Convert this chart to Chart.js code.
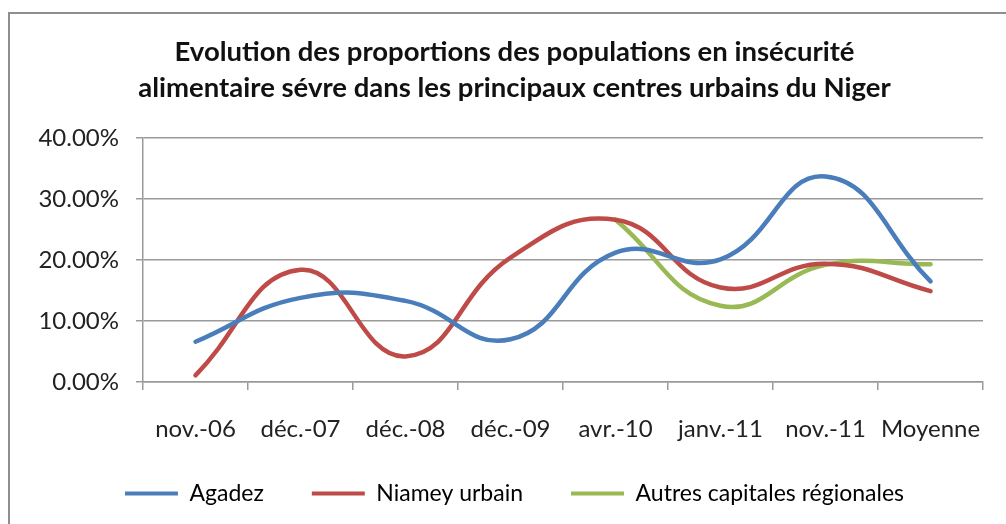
<!DOCTYPE html>
<html>
<head>
<meta charset="utf-8">
<script src="https://cdn.jsdelivr.net/npm/chart.js@4/dist/chart.umd.min.js"></script>
<style>
  html, body { margin: 0; padding: 0; background: #fff; overflow: hidden; }
  #frame { position: absolute; left: 8px; top: 12px; width: 1020px; height: 540px;
           border: 2px solid #8e8e8e; box-sizing: border-box; }
  #wrap { position: absolute; left: 0; top: 0; width: 1006px; height: 524px; }
</style>
</head>
<body>
<div id="frame"></div>
<div id="wrap"><canvas id="chart"></canvas></div>
<script>
// Survey periods and the average column
const categories = ['nov.-06', 'déc.-07', 'déc.-08', 'déc.-09', 'avr.-10', 'janv.-11', 'nov.-11', 'Moyenne'];

// Share of the population in severe food insecurity (%)
const agadez = [6.6, 13.8, 13.3, 7.0, 21.2, 20.1, 33.7, 16.5];
const niamey = [1.1, 18.4, 4.2, 20.4, 26.6, 15.5, 19.4, 14.9];
const autresCapitales = [null, null, null, null, 26.6, 12.5, 19.2, 19.3];

const yTicks = [0, 10, 20, 30, 40];

const FONT = 'Lato, "Open Sans", sans-serif';
const GRID = '#9a9a9a';

function series(label, data, color) {
  return {
    label, data,
    borderColor: color,
    backgroundColor: color,
    borderWidth: 4.5,
    pointRadius: 0,
    pointHoverRadius: 0,
    tension: 0.45,
    borderCapStyle: 'round',
    borderJoinStyle: 'round',
    fill: false
  };
}

new Chart(document.getElementById('chart'), {
  type: 'line',
  data: {
    labels: categories,
    datasets: [
      series('Agadez', agadez, '#4A7EBB'),
      series('Niamey urbain', niamey, '#BE4B48'),
      series('Autres capitales régionales', autresCapitales, '#98B954')
    ]
  },
  options: {
    responsive: true,
    maintainAspectRatio: false,
    animation: false,
    layout: { padding: { left: 36, right: 13, top: 0, bottom: 9 } },
    plugins: {
      title: {
        display: true,
        text: ['Evolution des proportions des populations en insécurité',
               'alimentaire sévre dans les principaux centres urbains du Niger'],
        color: '#111',
        font: { family: FONT, size: 27.5, weight: 'bold', lineHeight: 1.31 },
        padding: { top: 34, bottom: 32 }
      },
      legend: {
        position: 'bottom',
        labels: {
          color: '#222',
          font: { family: FONT, size: 23 },
          boxWidth: 53,
          boxHeight: 4,
          padding: 48,
          generateLabels(chart) {
            return chart.data.datasets.map((ds, i) => ({
              text: ds.label,
              fillStyle: ds.borderColor,
              strokeStyle: ds.borderColor,
              lineWidth: 0,
              datasetIndex: i,
              hidden: false
            }));
          }
        }
      },
      tooltip: { enabled: false }
    },
    scales: {
      x: {
        offset: true,
        grid: { offset: true, drawOnChartArea: false, tickLength: 8, color: GRID, lineWidth: 1.5 },
        border: { color: GRID, width: 1.5 },
        ticks: { color: '#222', padding: 25, maxRotation: 0, font: { family: FONT, size: 24 } },
        afterFit(scale) {
          scale.height = 52;
          // the category labels sit below this compact box, so draw them unclipped
          scale._computeLabelArea = () => undefined;
        }
      },
      y: {
        min: 0,
        max: 40,
        afterBuildTicks(scale) { scale.ticks = yTicks.map(v => ({ value: v })); },
        grid: { color: GRID, lineWidth: 1.5, tickLength: 7 },
        border: { color: GRID, width: 1.5 },
        ticks: {
          color: '#222',
          padding: 17,
          font: { family: FONT, size: 24 },
          callback: v => v.toFixed(2) + '%'
        },
        afterFit(scale) { scale.width = 107; }
      }
    }
  }
});
</script>
</body>
</html>
